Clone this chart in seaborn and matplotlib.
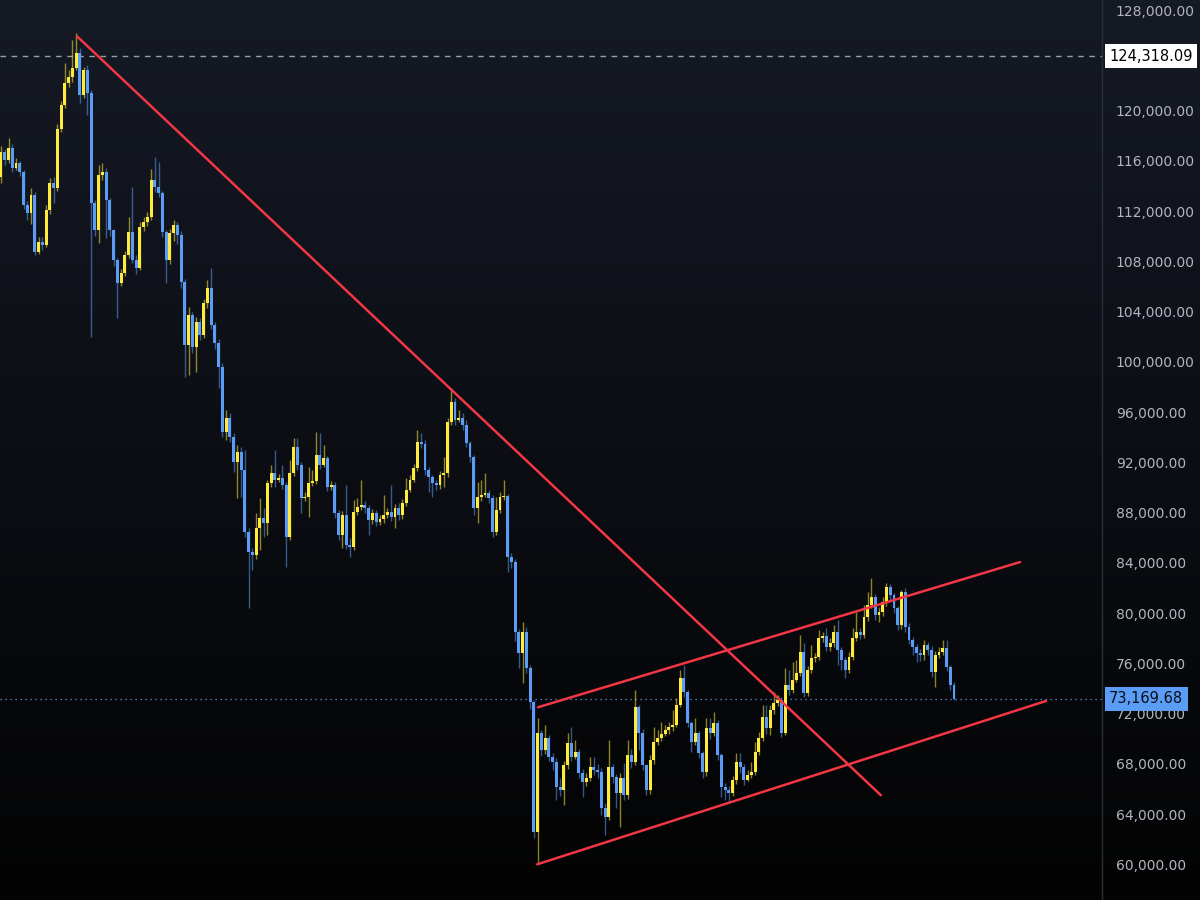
import numpy as np
import pandas as pd
import matplotlib
matplotlib.use("Agg")
import matplotlib.pyplot as plt
import matplotlib.transforms as mtransforms
from matplotlib.colors import LinearSegmentedColormap
import seaborn as sns

# candle data, prices in thousands of USD (open = previous close)
first_open_k = 114.7
closes_k = [
    116.7, 116.06, 117.02, 115.43, 115.83, 115.11, 112.48, 111.85, 113.28, 108.74,
    109.54, 109.3, 112.08, 114.23, 113.84, 118.53, 120.44, 122.19, 122.67, 123.39,
    124.58, 121.24, 123.23, 121.4, 112.64, 110.49, 114.87, 115.11, 112.88, 110.49,
    108.1, 106.27, 107.07, 108.5, 110.33, 108.1, 107.47, 110.73, 111.13, 111.53,
    114.47, 113.91, 113.44, 110.33, 108.1, 110.25, 110.89, 110.09, 106.35, 101.34,
    103.73, 101.18, 103.17, 102.13, 104.68, 105.88, 102.93, 101.5, 99.59, 94.41,
    95.53, 94.01, 92.02, 92.82, 91.39, 86.45, 84.86, 84.62, 86.77, 87.57,
    87.17, 90.35, 91.15, 90.59, 90.75, 90.19, 86.05, 91.15, 93.22, 91.79,
    89.16, 89.24, 90.35, 90.51, 92.58, 91.79, 92.34, 90.03, 90.19, 87.97,
    86.21, 87.81, 85.42, 85.26, 88.04, 88.44, 88.6, 88.36, 87.41, 87.97,
    87.25, 87.49, 87.81, 88.04, 87.65, 88.36, 87.81, 88.76, 89.8, 90.59,
    91.55, 93.62, 93.46, 91.39, 90.83, 90.35, 90.19, 90.99, 91.15, 95.21,
    96.8, 95.37, 95.53, 94.97, 93.54, 92.42, 88.36, 89.24, 89.4, 89.56,
    89.16, 86.45, 88.2, 89.24, 89.32, 84.46, 84.06, 78.49, 76.82, 78.49,
    75.63, 72.92, 62.57, 70.45, 69.1, 70.05, 68.54, 68.14, 66.15, 65.92,
    67.91, 69.66, 68.54, 68.94, 67.27, 66.55, 66.87, 67.75, 67.51, 67.35,
    64.48, 63.77, 67.75, 66.95, 65.68, 66.87, 65.52, 68.7, 68.14, 72.52,
    70.45, 67.91, 65.92, 68.3, 69.74, 70.05, 70.37, 70.69, 70.93, 71.09,
    72.68, 74.83, 73.72, 71.25, 69.74, 70.45, 68.86, 67.35, 70.85, 70.45,
    71.25, 68.7, 66.15, 65.92, 65.68, 66.71, 68.14, 67.75, 66.71, 67.11,
    67.35, 68.94, 70.05, 71.73, 70.85, 72.28, 72.84, 73.08, 70.45, 74.27,
    73.88, 74.67, 75.23, 76.9, 73.64, 75.47, 76.42, 76.5, 78.02, 78.17,
    77.3, 77.62, 78.49, 77.06, 76.26, 75.47, 76.5, 78.02, 78.49, 78.25,
    79.69, 80.64, 81.28, 79.85, 80.08, 80.88, 82.07, 81.44, 80.4, 79.05,
    81.68, 78.89, 77.86, 77.3, 76.82, 76.66, 77.46, 77.06, 75.31, 76.66,
    76.9, 77.22, 75.71, 74.27, 73.16968,
]
highs_k = [
    117.2, 116.9, 117.82, 117.3, 116.2, 116.0, 115.3, 112.8, 113.8, 113.5,
    109.9, 109.9, 112.5, 114.6, 114.71, 118.9, 120.8, 123.79, 123.2, 125.62,
    126.2, 124.98, 123.5, 123.63, 121.6, 112.9, 115.67, 115.83, 115.4, 113.0,
    110.6, 108.3, 107.4, 108.8, 111.53, 113.91, 108.5, 111.1, 111.5, 111.9,
    115.35, 116.3, 115.9, 113.6, 110.5, 110.6, 111.3, 111.1, 110.4, 106.6,
    104.36, 104.0, 103.6, 103.5, 105.0, 106.5, 107.5, 103.2, 101.8, 99.9,
    96.16, 95.9, 94.3, 93.4, 93.2, 92.98, 86.8, 85.2, 87.97, 89.16,
    88.36, 90.59, 91.79, 92.98, 91.1, 91.79, 90.4, 92.18, 93.94, 93.94,
    92.0, 89.6, 91.63, 91.39, 94.41, 94.33, 93.38, 92.5, 90.5, 90.4,
    88.2, 88.1, 90.19, 86.0, 89.0, 89.16, 90.59, 88.9, 88.6, 88.3,
    88.2, 87.8, 89.4, 88.4, 90.19, 88.7, 88.8, 89.1, 90.75, 91.0,
    91.9, 94.57, 94.33, 93.78, 91.6, 91.0, 90.6, 91.3, 92.42, 95.5,
    97.9, 97.1, 96.16, 95.9, 95.4, 93.7, 92.6, 90.43, 90.59, 91.15,
    89.8, 89.4, 89.24, 89.6, 90.59, 89.5, 84.8, 84.3, 78.7, 79.29,
    78.9, 75.9, 73.1, 71.65, 70.69, 71.1, 70.3, 68.9, 68.5, 66.9,
    68.2, 70.45, 70.93, 69.9, 69.2, 67.6, 67.3, 68.54, 68.54, 68.0,
    67.7, 64.9, 69.9, 68.0, 67.2, 67.3, 68.06, 69.9, 69.2, 73.88,
    72.7, 70.8, 68.0, 68.7, 70.93, 70.7, 71.33, 71.1, 71.3, 72.28,
    73.24, 75.47, 75.87, 73.9, 71.4, 71.65, 70.6, 69.0, 71.65, 71.65,
    72.12, 71.5, 68.9, 66.5, 66.2, 67.0, 68.86, 68.86, 68.0, 67.5,
    68.14, 69.74, 70.5, 72.68, 72.68, 72.7, 73.72, 73.48, 73.3, 75.63,
    75.47, 76.1, 76.26, 78.25, 77.6, 75.8, 77.46, 76.8, 78.65, 78.5,
    78.81, 78.0, 79.05, 79.45, 77.3, 76.5, 76.9, 78.81, 80.08, 78.8,
    80.64, 81.68, 82.79, 81.5, 80.5, 81.3, 82.39, 82.3, 81.6, 80.6,
    81.84, 82.0, 79.2, 78.1, 77.5, 77.1, 77.86, 77.7, 77.4, 77.0,
    77.3, 77.86, 77.86, 75.9, 74.5,
]
lows_k = [
    114.2, 115.7, 115.8, 115.1, 115.3, 114.8, 112.2, 111.3, 111.0, 108.5,
    108.6, 108.9, 109.1, 111.8, 112.64, 113.6, 118.3, 120.2, 121.9, 122.3,
    123.2, 120.6, 121.0, 119.65, 102.0, 110.0, 109.46, 114.5, 109.86, 110.0,
    107.6, 103.49, 106.0, 106.8, 108.3, 107.9, 107.0, 107.3, 110.4, 110.8,
    111.3, 113.5, 113.1, 109.9, 106.27, 107.8, 109.6, 109.4, 105.9, 98.79,
    98.95, 100.7, 99.19, 101.7, 101.9, 104.3, 102.6, 101.0, 97.92, 94.01,
    93.78, 93.6, 91.2, 89.16, 89.24, 86.05, 80.4, 83.43, 84.3, 85.02,
    86.05, 86.21, 90.0, 90.03, 90.4, 89.9, 83.67, 85.8, 90.9, 91.4,
    87.97, 88.9, 87.65, 90.1, 90.3, 91.5, 91.6, 89.7, 89.8, 87.6,
    85.8, 85.18, 85.1, 84.46, 85.0, 87.8, 88.2, 88.0, 86.21, 87.1,
    86.9, 87.0, 87.2, 87.6, 87.3, 86.77, 87.4, 87.5, 88.5, 89.6,
    90.4, 91.3, 93.1, 91.0, 89.64, 89.24, 89.8, 89.9, 90.03, 90.8,
    95.0, 95.0, 95.2, 94.6, 93.2, 92.0, 87.8, 87.17, 88.9, 89.2,
    88.8, 86.05, 86.2, 88.0, 89.0, 83.27, 83.6, 77.8, 75.63, 74.4,
    75.2, 72.4, 62.09, 60.0, 68.6, 68.8, 68.2, 67.51, 65.12, 65.4,
    64.72, 67.6, 68.2, 68.4, 66.9, 65.36, 66.2, 66.6, 67.1, 66.9,
    63.93, 62.33, 63.5, 66.5, 64.48, 62.97, 65.1, 65.2, 67.7, 67.9,
    69.1, 67.5, 65.5, 65.6, 68.0, 69.5, 69.8, 70.2, 70.4, 70.6,
    70.9, 72.5, 73.3, 70.9, 68.94, 69.5, 68.5, 66.87, 67.0, 70.0,
    70.2, 68.3, 65.36, 65.12, 64.88, 65.4, 66.4, 67.3, 66.3, 66.6,
    66.9, 67.1, 68.7, 69.8, 70.4, 70.29, 72.0, 72.6, 70.1, 70.3,
    73.5, 73.6, 74.5, 75.0, 73.32, 73.4, 75.2, 76.1, 76.3, 77.7,
    77.0, 77.0, 77.3, 75.87, 75.47, 74.83, 75.2, 76.3, 77.8, 77.9,
    78.0, 79.4, 80.4, 79.45, 79.29, 79.8, 80.6, 81.0, 80.0, 78.65,
    78.7, 78.5, 77.5, 76.66, 76.1, 76.2, 76.3, 76.7, 74.9, 74.11,
    76.4, 76.7, 75.4, 73.9, 73.1,
]

# drawn trend lines: (candle index, price)
trend_down_x = [20.3, 234.5]
trend_down_y = [125900, 65500]
channel_top_x = [143.1, 271.6]
channel_top_y = [72500, 84060]
channel_bot_x = [142.9, 278.5]
channel_bot_y = [60000, 73000]

ath_level = 124318.09
last_price = 73169.68
# 124,000 sits under the ATH label box, so it is not shown
price_ticks = [60000, 64000, 68000, 72000, 76000, 80000, 84000, 88000, 92000,
               96000, 100000, 104000, 108000, 112000, 116000, 120000, 128000]

up_col = "#FFEB3B"
down_col = "#5B9CF6"
red = "#F23645"
text_col = "#B2B5BE"

df = pd.DataFrame({
    "close": np.array(closes_k) * 1000,
    "high": np.array(highs_k) * 1000,
    "low": np.array(lows_k) * 1000,
})
df["open"] = df["close"].shift(1).fillna(first_open_k * 1000)
df.loc[df.index[-1], "close"] = last_price
df["idx"] = np.arange(len(df))
df["up"] = df["close"] >= df["open"]

sns.set_theme(style="dark")
plt.rcParams["font.family"] = ["DejaVu Sans"]

fig = plt.figure(figsize=(12, 9), dpi=100)

# background gradient
bg = fig.add_axes([0, 0, 1, 1])
cmap = LinearSegmentedColormap.from_list("bg", ["#161a25", "#0c0e14", "#030303"])
bg.imshow(np.linspace(0, 1, 256).reshape(-1, 1), aspect="auto", cmap=cmap,
          extent=[0, 1, 0, 1], origin="upper")
bg.set_axis_off()

ax = fig.add_axes([0, 0, 1102 / 1200, 1])
ax.set_facecolor("none")

# wicks and bodies
for up, col in [(True, up_col), (False, down_col)]:
    sub = df[df["up"] == up]
    ax.vlines(sub["idx"], sub["low"], sub["high"], colors=col, alpha=0.55,
              linewidth=1.0, zorder=2)
    body_lo = np.minimum(sub["open"], sub["close"])
    body_h = np.maximum(np.abs(sub["close"] - sub["open"]), 110)
    ax.bar(sub["idx"], body_h, bottom=body_lo, width=0.78, color=col,
           linewidth=0, zorder=3)

# level lines
ax.axhline(ath_level, color="#9a9da6", linewidth=1.0, dashes=(4, 4), zorder=1)
ax.axhline(last_price, color=down_col, linewidth=0.9, dashes=(1, 3), zorder=1)

# trend lines
for tx, ty in [(trend_down_x, trend_down_y), (channel_top_x, channel_top_y),
               (channel_bot_x, channel_bot_y)]:
    sns.lineplot(x=tx, y=ty, ax=ax, color=red, linewidth=1.8, estimator=None,
                 zorder=4)

ax.set_xlim(-0.27, -0.27 + 1102 / 3.752)
ax.set_ylim(128800 - 79.6 * 900, 128800)

ax.yaxis.tick_right()
ax.set_yticks(price_ticks)
ax.set_yticklabels([f"{v:,.2f}" for v in price_ticks])
ax.tick_params(axis="y", length=0, pad=10, labelsize=10, labelcolor=text_col)
ax.set_xticks([])
ax.grid(False)
for side in ["top", "left", "bottom"]:
    ax.spines[side].set_visible(False)
ax.spines["right"].set_color("#2a2e39")
ax.spines["right"].set_linewidth(1.0)

trans = mtransforms.blended_transform_factory(ax.transAxes, ax.transData)
ax.text(1.0 + 7 / 1102, ath_level, f"{ath_level:,.2f}", transform=trans,
        ha="left", va="center", fontsize=10.5, color="#000000", zorder=10,
        bbox=dict(boxstyle="square,pad=0.3", fc="white", ec="none"))
ax.text(1.0 + 7 / 1102, last_price, f"{last_price:,.2f}", transform=trans,
        ha="left", va="center", fontsize=10.5, color="#0b0e16", zorder=10,
        bbox=dict(boxstyle="square,pad=0.3", fc=down_col, ec="none"))

fig.savefig("out.png", dpi=100)
